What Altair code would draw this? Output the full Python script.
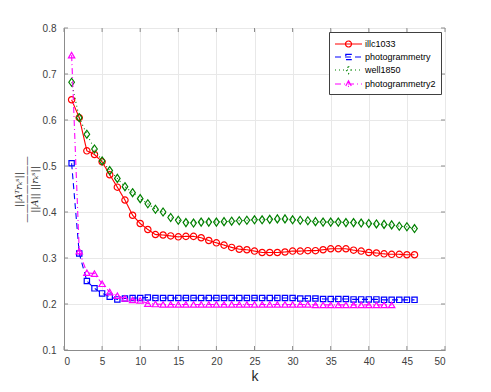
import altair as alt
import pandas as pd

# ---------------- data ----------------
k_main = list(range(1, 47))
k_pg2 = list(range(1, 44))

illc1033 = [0.644, 0.605, 0.533, 0.525, 0.509, 0.481, 0.454, 0.426, 0.393, 0.375,
            0.362, 0.351, 0.350, 0.348, 0.346, 0.347, 0.347, 0.344, 0.338, 0.333,
            0.328, 0.323, 0.319, 0.318, 0.315, 0.312, 0.312, 0.312, 0.313, 0.315,
            0.315, 0.316, 0.316, 0.318, 0.320, 0.320, 0.320, 0.317, 0.315, 0.312,
            0.311, 0.309, 0.308, 0.308, 0.307, 0.307]

photogrammetry = [0.506, 0.310, 0.250, 0.234, 0.223, 0.216, 0.210, 0.212, 0.213, 0.213,
                  0.214, 0.213, 0.213, 0.213, 0.213, 0.213, 0.213, 0.213, 0.213, 0.213,
                  0.213, 0.213, 0.213, 0.213, 0.213, 0.213, 0.213, 0.213, 0.213, 0.213,
                  0.212, 0.212, 0.212, 0.211, 0.211, 0.211, 0.211, 0.210, 0.210, 0.210,
                  0.210, 0.209, 0.209, 0.209, 0.209, 0.209]

well1850 = [0.682, 0.605, 0.569, 0.537, 0.511, 0.490, 0.473, 0.455, 0.442, 0.429,
            0.418, 0.406, 0.400, 0.388, 0.382, 0.377, 0.376, 0.378, 0.378, 0.378,
            0.379, 0.380, 0.381, 0.382, 0.383, 0.383, 0.384, 0.385, 0.385, 0.383,
            0.382, 0.381, 0.379, 0.378, 0.378, 0.378, 0.377, 0.377, 0.376, 0.375,
            0.374, 0.373, 0.372, 0.369, 0.368, 0.364]

photogrammetry2 = [0.741, 0.315, 0.268, 0.266, 0.244, 0.226, 0.218, 0.212, 0.209, 0.208,
                   0.201, 0.200, 0.199, 0.199, 0.199, 0.199, 0.199, 0.199, 0.199, 0.199,
                   0.199, 0.199, 0.199, 0.199, 0.199, 0.199, 0.199, 0.199, 0.199, 0.199,
                   0.199, 0.199, 0.198, 0.198, 0.198, 0.198, 0.198, 0.198, 0.198, 0.198,
                   0.198, 0.198, 0.198]

series_names = ["illc1033", "photogrammetry", "well1850", "photogrammetry2"]
series_k = [k_main, k_main, k_main, k_pg2]
series_vals = [illc1033, photogrammetry, well1850, photogrammetry2]

x_ticks = list(range(0, 51, 5))
y_ticks = [0.1, 0.2, 0.3, 0.4, 0.5, 0.6, 0.7, 0.8]

# ---------------- styles ----------------
colors = ["#ff0000", "#0000ff", "#008000", "#ff00ff"]
dashes = [[1, 0], [6, 4], [1, 3], [6, 3, 1, 3]]
marker_shapes = [
    "circle",
    "square",
    "M0,-1L0.7,0L0,1L-0.7,0Z",
    "triangle-up",
]
marker_sizes = [40, 28, 64, 40]
legend_paths = [
    "M-1,0H3.5M0.75,0A0.5,0.5 0 1,0 1.75,0A0.5,0.5 0 1,0 0.75,0Z",
    "M-1,0H3.5M0.8,-0.45H1.7V0.45H0.8Z",
    "M-1,0H3.5M1.25,-0.62L1.65,0L1.25,0.62L0.85,0Z",
    "M-1,0H3.5M1.25,-0.55L1.75,0.4H0.75Z",
]

W, H = 381, 322
axis_color = "#8c8c8c"

rows = []
for name, ks, vals in zip(series_names, series_k, series_vals):
    for kk, vv in zip(ks, vals):
        rows.append({"series": name, "k": kk, "v": vv})
df = pd.DataFrame(rows)

x_enc = alt.X("k:Q", scale=alt.Scale(domain=[0, 50], nice=False),
              axis=alt.Axis(values=x_ticks, title="k", grid=True, labelPadding=6,
                            titleFontSize=14, titlePadding=3, titleFont="Liberation Sans",
                            titleFontWeight="normal", titleColor="#262626"))
y_enc = alt.Y("v:Q", scale=alt.Scale(domain=[0.1, 0.8], nice=False, zero=False),
              axis=alt.Axis(values=y_ticks, format=".1f", grid=True, labelPadding=8,
                            title=["||A\u1d40r\u2096\u02e2||", "\u2014\u2014\u2014\u2014\u2014\u2014\u2014", "||A|| ||r\u2096\u02e2||"],
                            titleFont="DejaVu Serif", titleFontStyle="italic", titleFontSize=9.5,
                            titleFontWeight="normal", titleLineHeight=8, titlePadding=3,
                            titleColor="#333333"))

layers = []
for i, name in enumerate(series_names):
    sub = df[df["series"] == name]
    layers.append(
        alt.Chart(sub).mark_line(color=colors[i], strokeDash=dashes[i], strokeWidth=1.1)
        .encode(x=x_enc, y=y_enc)
    )
    layers.append(
        alt.Chart(sub).mark_point(shape=marker_shapes[i], color=colors[i], filled=False,
                                  size=marker_sizes[i], strokeWidth=1.2, opacity=1)
        .encode(x=x_enc, y=y_enc)
    )

leg_common = dict(title=None, orient="top-right", offset=4, padding=5,
                  fillColor="white", strokeColor="#404040", labelFontSize=9,
                  labelFont="Liberation Sans", labelColor="#000000",
                  symbolSize=144, symbolStrokeWidth=1.2, symbolOpacity=1,
                  rowPadding=0, labelOffset=17)

legend_layer = alt.Chart(df).mark_point(opacity=0, filled=False, strokeWidth=1.2).encode(
    x=x_enc, y=y_enc,
    color=alt.Color("series:N", scale=alt.Scale(domain=series_names, range=colors),
                    legend=alt.Legend(**leg_common)),
    shape=alt.Shape("series:N", scale=alt.Scale(domain=series_names, range=legend_paths),
                    legend=alt.Legend(**leg_common)),
    strokeDash=alt.StrokeDash("series:N", scale=alt.Scale(domain=series_names, range=dashes),
                              legend=alt.Legend(**leg_common)),
)

# inward tick marks on all four sides (MATLAB box style)
yt = pd.DataFrame({"v": y_ticks})
xt = pd.DataFrame({"k": x_ticks})
tick_layers = [
    alt.Chart(yt).mark_rule(color=axis_color).encode(y=y_enc, x=alt.value(0), x2=alt.value(4)),
    alt.Chart(yt).mark_rule(color=axis_color).encode(y=y_enc, x=alt.value(W - 4), x2=alt.value(W)),
    alt.Chart(xt).mark_rule(color=axis_color).encode(x=x_enc, y=alt.value(H - 4), y2=alt.value(H)),
    alt.Chart(xt).mark_rule(color=axis_color).encode(x=x_enc, y=alt.value(0), y2=alt.value(4)),
]

chart = alt.layer(*layers, legend_layer, *tick_layers).properties(
    width=W, height=H,
    padding={"left": 5, "top": 15, "right": 5, "bottom": 0},
    background="white",
).configure_view(
    stroke=axis_color, strokeWidth=1
).configure_axis(
    domainColor=axis_color, domainWidth=1, gridColor="#e8e8e8", gridWidth=1,
    ticks=False, labelFont="Liberation Sans", labelFontSize=10, labelColor="#404040",
)

chart.save("out.html", embed_options={"renderer": "svg", "actions": False})
